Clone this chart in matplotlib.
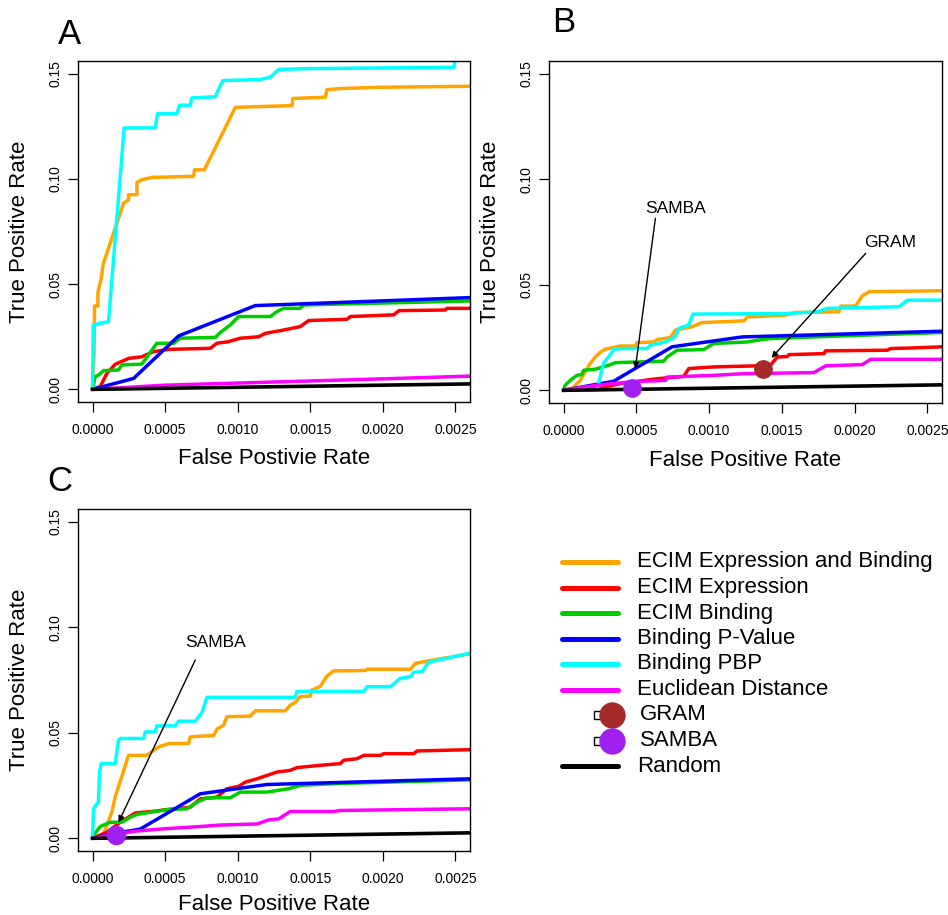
import matplotlib
matplotlib.use("Agg")
import matplotlib.pyplot as plt

plt.rcParams['font.family'] = ['Liberation Sans', 'DejaVu Sans']

# ---------------- data ----------------
series_names = ["ECIM Expression and Binding", "ECIM Expression", "ECIM Binding",
                "Binding P-Value", "Binding PBP", "Euclidean Distance"]
series_colors = ["#FFA500", "#FF0000", "#00CD00", "#0000FF", "#00FFFF", "#FF00FF"]

random_x = [0, 1]
random_y = [0, 1]

# Panel A
a_orange_x = [0, 0.000010, 0.000014, 0.000037, 0.000037, 0.000060, 0.000071, 0.000076, 0.000214, 0.000248, 0.000248,
              0.000306, 0.000306, 0.000340, 0.000409, 0.000696, 0.000703, 0.000770, 0.000984, 0.001225, 0.001374,
              0.001380, 0.001604, 0.001615, 0.001707, 0.001960, 0.002600]
a_orange_y = [0, 0.017, 0.0396, 0.0396, 0.046, 0.0528, 0.0584, 0.060, 0.0885, 0.090, 0.0925, 0.0925, 0.0983, 0.0996,
              0.1007, 0.1012, 0.1043, 0.1043, 0.134, 0.1345, 0.1348, 0.1382, 0.1388, 0.1424, 0.1429, 0.1435, 0.144]
a_red_x = [0, 0.000053, 0.000099, 0.000156, 0.000248, 0.000340, 0.000420, 0.000524, 0.000811, 0.000857, 0.000938,
           0.001018, 0.001144, 0.001190, 0.001317, 0.001430, 0.001489, 0.001753, 0.001776, 0.002075, 0.002110,
           0.002430, 0.002441, 0.002600]
a_red_y = [0, 0.0013, 0.0076, 0.0119, 0.0147, 0.0155, 0.0179, 0.019, 0.0195, 0.0219, 0.0227, 0.0243, 0.025, 0.0266,
           0.0282, 0.0298, 0.0327, 0.0333, 0.0346, 0.0354, 0.0374, 0.0377, 0.0385, 0.0385]
a_green_x = [0, 0.000018, 0.000041, 0.000076, 0.000179, 0.000202, 0.000340, 0.000443, 0.000558, 0.000604, 0.000846,
             0.000880, 0.000949, 0.001006, 0.001225, 0.001271, 0.001317, 0.001430, 0.001453, 0.002600]
a_green_y = [0, 0.006, 0.0068, 0.0089, 0.0092, 0.0116, 0.012, 0.0219, 0.0219, 0.0243, 0.0247, 0.027, 0.0306, 0.0346,
             0.0346, 0.037, 0.0385, 0.0385, 0.0401, 0.042]
a_blue_x = [0, 0.000283, 0.000593, 0.001121, 0.0026]
a_blue_y = [0, 0.0052, 0.0254, 0.0398, 0.0436]
a_cyan_x = [0, 0.000005, 0.000110, 0.000218, 0.000432, 0.000448, 0.000581, 0.000600, 0.000673, 0.000685, 0.000846,
            0.000870, 0.000898, 0.001156, 0.001225, 0.001282, 0.001500, 0.002490, 0.002505]
a_cyan_y = [0, 0.0306, 0.0322, 0.1242, 0.1242, 0.131, 0.131, 0.135, 0.135, 0.1385, 0.139, 0.1427, 0.1467, 0.1472,
            0.1483, 0.152, 0.1524, 0.153, 0.16]
a_magenta_x = [0, 0.0005, 0.001, 0.0015, 0.002, 0.0026]
a_magenta_y = [0, 0.0020, 0.0030, 0.0040, 0.0050, 0.0063]

# Panel B
b_orange_x = [0, 0.000057, 0.000115, 0.000183, 0.000218, 0.000252, 0.000287, 0.000390, 0.000493, 0.000505, 0.000620,
              0.000642, 0.000734, 0.000768, 0.000883, 0.000950, 0.001239, 0.001262, 0.001525, 0.001594, 0.001892,
              0.001904, 0.002006, 0.002053, 0.002100, 0.002600]
b_orange_y = [0, 0.0008, 0.0047, 0.0127, 0.0158, 0.018, 0.0195, 0.021, 0.021, 0.0226, 0.0229, 0.024, 0.025, 0.0285,
              0.0301, 0.0321, 0.0329, 0.0348, 0.0356, 0.0369, 0.0372, 0.0399, 0.0399, 0.0448, 0.0467, 0.0472]
b_red_x = [0, 0.000241, 0.000390, 0.000642, 0.000826, 0.000860, 0.001032, 0.001330, 0.001422, 0.001468, 0.001537,
           0.001548, 0.001789, 0.001800, 0.002225, 0.002248, 0.002408, 0.002600]
b_red_y = [0, 0.0008, 0.0032, 0.0055, 0.0066, 0.0103, 0.0111, 0.0116, 0.0119, 0.0158, 0.016, 0.0169, 0.0174, 0.0187,
           0.019, 0.0198, 0.0201, 0.0206]
b_green_x = [0, 0.000011, 0.000046, 0.000092, 0.000126, 0.000138, 0.000218, 0.000310, 0.000355, 0.000688, 0.000711,
             0.000780, 0.000963, 0.001032, 0.001261, 0.001330, 0.001422, 0.001720, 0.002600]
b_green_y = [0, 0.0024, 0.0047, 0.0071, 0.0075, 0.0095, 0.0100, 0.0119, 0.0131, 0.0138, 0.0158, 0.019, 0.0193, 0.0222,
             0.0229, 0.0237, 0.0245, 0.0253, 0.0274]
b_blue_x = [0, 0.000344, 0.000745, 0.001227, 0.0026]
b_blue_y = [0, 0.0043, 0.0206, 0.0253, 0.028]
b_cyan_x = [0, 0.000229, 0.000252, 0.000275, 0.000310, 0.000344, 0.000400, 0.000573, 0.000596, 0.000700, 0.000768,
            0.000791, 0.000860, 0.000890, 0.001537, 0.001743, 0.001812, 0.002305, 0.002362, 0.002600]
b_cyan_y = [0, 0.0003, 0.0063, 0.013, 0.0158, 0.0193, 0.0198, 0.0198, 0.0214, 0.0229, 0.0253, 0.0293, 0.0309, 0.0361,
            0.0364, 0.0372, 0.0388, 0.0396, 0.0427, 0.0427]
b_magenta_x = [0, 0.000229, 0.000459, 0.000700, 0.000711, 0.001032, 0.001239, 0.001720, 0.001800, 0.002053, 0.002110,
               0.002600]
b_magenta_y = [0, 0.0024, 0.004, 0.0047, 0.0063, 0.0071, 0.0079, 0.0084, 0.0116, 0.0122, 0.0147, 0.0147]

# Panel C
c_orange_x = [0, 0.000076, 0.000133, 0.000156, 0.000248, 0.000374, 0.000455, 0.000524, 0.000662, 0.000673, 0.000719,
              0.000834, 0.000857, 0.000903, 0.000926, 0.001087, 0.001121, 0.001328, 0.001362, 0.001397, 0.001430,
              0.001500, 0.001512, 0.001570, 0.001615, 0.001661, 0.001880, 0.001891, 0.002190, 0.002224, 0.002350,
              0.002600]
c_orange_y = [0, 0.002, 0.0124, 0.0195, 0.0393, 0.0393, 0.0433, 0.0449, 0.0449, 0.048, 0.0483, 0.0487, 0.0517, 0.0536,
              0.0576, 0.0579, 0.0604, 0.0604, 0.0631, 0.0644, 0.0671, 0.0674, 0.0702, 0.0721, 0.0769, 0.0793, 0.0795,
              0.0801, 0.0801, 0.0829, 0.0845, 0.0874]
c_red_x = [0, 0.000099, 0.000191, 0.000294, 0.000420, 0.000512, 0.000673, 0.000742, 0.000857, 0.000926, 0.001006,
           0.001052, 0.001133, 0.001202, 0.001271, 0.001362, 0.001408, 0.001569, 0.001707, 0.001730, 0.001822,
           0.001868, 0.001983, 0.002006, 0.002213, 0.002236, 0.002420, 0.002600]
c_red_y = [0, 0.0029, 0.0076, 0.012, 0.0128, 0.0136, 0.0147, 0.0187, 0.0195, 0.0235, 0.0246, 0.0266, 0.0282, 0.0298,
           0.0314, 0.0322, 0.0335, 0.0346, 0.0354, 0.037, 0.0377, 0.0393, 0.0393, 0.0401, 0.0401, 0.0414, 0.0417,
           0.042]
c_green_x = [0, 0.000018, 0.000053, 0.000122, 0.000202, 0.000260, 0.000306, 0.000512, 0.000650, 0.000719, 0.000788,
             0.000949, 0.001018, 0.001202, 0.001351, 0.001430, 0.001661, 0.002600]
c_green_y = [0, 0.0024, 0.0056, 0.0076, 0.0076, 0.010, 0.0113, 0.0136, 0.014, 0.0171, 0.0192, 0.0192, 0.0219, 0.0219,
             0.0235, 0.0251, 0.0259, 0.0277]
c_blue_x = [0, 0.000168, 0.000329, 0.000742, 0.001202, 0.0026]
c_blue_y = [0, 0.0025, 0.0044, 0.0211, 0.0255, 0.0282]
c_cyan_x = [0, 0.000007, 0.000030, 0.000041, 0.000048, 0.000060, 0.000156, 0.000179, 0.000191, 0.000352, 0.000363,
            0.000432, 0.000443, 0.000570, 0.000593, 0.000708, 0.000754, 0.000788, 0.001397, 0.001408, 0.001868,
            0.001891, 0.002052, 0.002120, 0.002189, 0.002213, 0.002270, 0.002316, 0.002600]
c_cyan_y = [0, 0.014, 0.0163, 0.017, 0.0314, 0.0354, 0.0354, 0.0465, 0.0473, 0.0473, 0.0504, 0.0504, 0.0533, 0.0533,
            0.0555, 0.0555, 0.0596, 0.0668, 0.0668, 0.0696, 0.0696, 0.0718, 0.0718, 0.0758, 0.0766, 0.0787, 0.079,
            0.0834, 0.0877]
c_magenta_x = [0, 0.000283, 0.000466, 0.000742, 0.000880, 0.001133, 0.001213, 0.001282, 0.001362, 0.001661, 0.001707,
               0.0026]
c_magenta_y = [0, 0.0033, 0.0044, 0.0056, 0.0063, 0.0068, 0.0087, 0.0092, 0.0127, 0.0127, 0.0132, 0.014]

# points
gram_b = (0.00137, 0.0100)
samba_b = (0.00047, 0.0013)
samba_c = (0.000163, 0.0016)
gram_color = "#A52A2A"
samba_color = "#A020F0"

x_ticks = [0.0, 0.0005, 0.0010, 0.0015, 0.0020, 0.0025]
x_tick_labels = ["0.0000", "0.0005", "0.0010", "0.0015", "0.0020", "0.0025"]
y_ticks = [0.0, 0.05, 0.10, 0.15]
y_tick_labels = ["0.00", "0.05", "0.10", "0.15"]

W, H = 948, 915
fig = plt.figure(figsize=(W / 100, H / 100), dpi=100)


def px_axes(l, t, r, b):
    return fig.add_axes([l / W, 1 - b / H, (r - l) / W, (b - t) / H])


def style(ax, xlabel, xlabel_y):
    ax.set_xlim(-0.0001, 0.0026)
    ax.set_ylim(-0.006, 0.156)
    ax.set_xticks(x_ticks)
    ax.set_xticklabels(x_tick_labels, fontsize=10)
    ax.set_yticks(y_ticks)
    ax.set_yticklabels(y_tick_labels, fontsize=10, rotation=90, va='center')
    ax.tick_params(axis='both', direction='out', length=7, width=0.9, color='black')
    ax.tick_params(axis='x', pad=8)
    ax.tick_params(axis='y', pad=4)
    for s in ax.spines.values():
        s.set_linewidth(1.0)
    ax.set_xlabel(xlabel, fontsize=16)
    ax.set_ylabel("True Positive Rate", fontsize=16)
    ax.xaxis.set_label_coords(0.5, xlabel_y)
    ax.yaxis.set_label_coords(-0.148, 0.5)
    ax.xaxis.label.set_va('center')
    ax.yaxis.label.set_va('center')


def draw(ax, xs, ys):
    for (x, y), c in zip(zip(xs, ys), series_colors):
        ax.plot(x, y, color=c, lw=2.5, solid_joinstyle='round', solid_capstyle='round')
    ax.plot(random_x, random_y, color='black', lw=2.6)


axA = px_axes(78, 61, 470, 402)
draw(axA, [a_orange_x, a_red_x, a_green_x, a_blue_x, a_cyan_x, a_magenta_x],
     [a_orange_y, a_red_y, a_green_y, a_blue_y, a_cyan_y, a_magenta_y])
style(axA, "False Postivie Rate", -0.167)

axB = px_axes(549, 61, 942, 403)
draw(axB, [b_orange_x, b_red_x, b_green_x, b_blue_x, b_cyan_x, b_magenta_x],
     [b_orange_y, b_red_y, b_green_y, b_blue_y, b_cyan_y, b_magenta_y])
axB.plot([gram_b[0]], [gram_b[1]], 'o', color=gram_color, ms=12.5, mec=gram_color, zorder=5)
axB.plot([samba_b[0]], [samba_b[1]], 'o', color=samba_color, ms=12.5, mec=samba_color, zorder=5)
arrow = dict(arrowstyle='-|>', lw=1.0, color='black', mutation_scale=9, shrinkA=0, shrinkB=0)
axB.annotate("", xy=(0.000493, 0.0103), xytext=(0.000631, 0.0815), arrowprops=arrow)
axB.text(0.000768, 0.0862, "SAMBA", fontsize=12.5, ha='center', va='center')
axB.annotate("", xy=(0.001429, 0.01535), xytext=(0.002076, 0.0649), arrowprops=arrow)
axB.text(0.002243, 0.0701, "GRAM", fontsize=12.5, ha='center', va='center')
style(axB, "False Positive Rate", -0.167)

axC = px_axes(78, 509, 470, 851)
draw(axC, [c_orange_x, c_red_x, c_green_x, c_blue_x, c_cyan_x, c_magenta_x],
     [c_orange_y, c_red_y, c_green_y, c_blue_y, c_cyan_y, c_magenta_y])
axC.plot([samba_c[0]], [samba_c[1]], 'o', color=samba_color, ms=13, mec=samba_color, zorder=5)
axC.annotate("", xy=(0.000179, 0.0076), xytext=(0.000708, 0.0845), arrowprops=arrow)
axC.text(0.00085, 0.0928, "SAMBA", fontsize=12.5, ha='center', va='center')
style(axC, "False Positive Rate", -0.155)

# panel letters
fig.text(70 / W, 1 - 35 / H, "A", fontsize=25, ha='center', va='center')
fig.text(564 / W, 1 - 23 / H, "B", fontsize=25, ha='center', va='center')
fig.text(60 / W, 1 - 482 / H, "C", fontsize=25, ha='center', va='center')

# legend (pixel overlay)
lg = fig.add_axes([0, 0, 1, 1])
lg.set_xlim(0, W)
lg.set_ylim(H, 0)
lg.axis('off')
row_y = [562, 587.5, 613, 638.5, 664, 689.5]
for name, c, y in zip(series_names, series_colors, row_y):
    lg.plot([562, 618], [y, y], color=c, lw=3.6, solid_capstyle='round')
    lg.text(637, y, name, fontsize=16, va='center', ha='left')
for name, c, y in zip(["GRAM", "SAMBA"], [gram_color, samba_color], [715, 740.5]):
    lg.plot([598], [y], 's', ms=6, mfc='white', mec='black', mew=1.0)
    lg.plot([612], [y], 'o', ms=18, color=c, mec=c)
    lg.text(640, y, name, fontsize=16, va='center', ha='left')
lg.plot([562, 618], [766, 766], color='black', lw=3.6, solid_capstyle='round')
lg.text(637, 766, "Random", fontsize=16, va='center', ha='left')

fig.savefig("out.png", dpi=100)
